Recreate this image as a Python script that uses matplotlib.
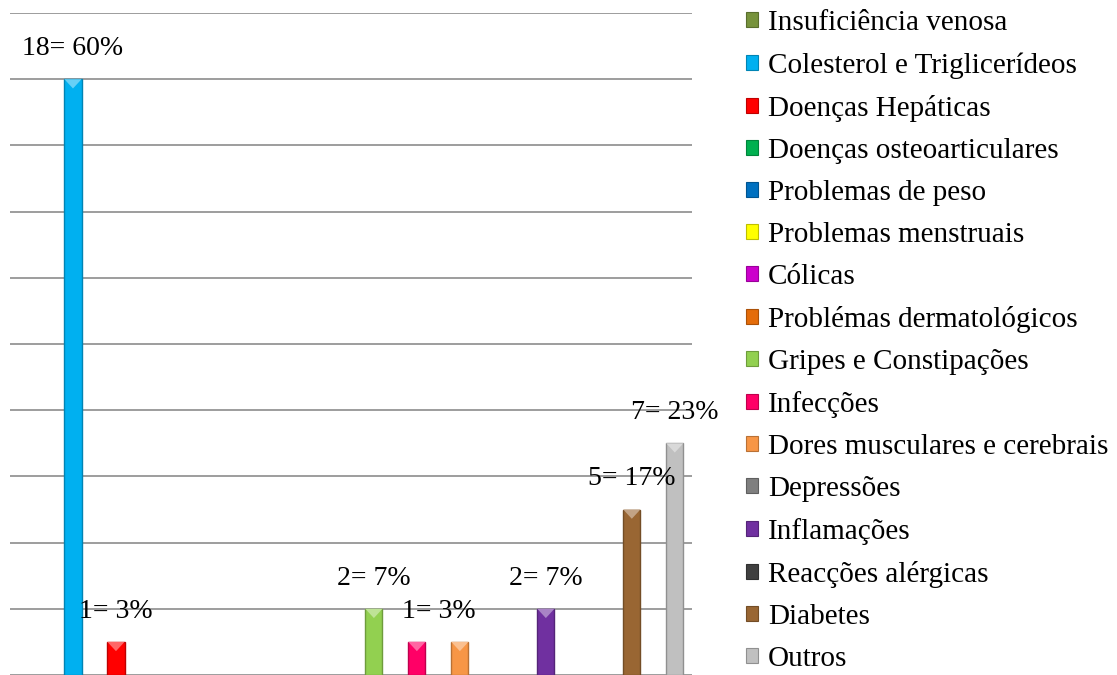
import matplotlib.pyplot as plt
from matplotlib.patches import Patch, Polygon
import matplotlib.colors as mcolors

# categories in legend order
categories = ["Insuficiência venosa", "Colesterol e Triglicerídeos", "Doenças Hepáticas",
              "Doenças osteoarticulares", "Problemas de peso", "Problemas menstruais",
              "Cólicas", "Problémas dermatológicos", "Gripes e Constipações", "Infecções",
              "Dores musculares e cerebrais", "Depressões", "Inflamações",
              "Reacções alérgicas", "Diabetes", "Outros"]
counts = [0, 18, 1, 0, 0, 0, 0, 0, 2, 1, 1, 0, 2, 0, 5, 7]
labels = ["", "18= 60%", "1= 3%", "", "", "", "", "", "2= 7%", "1= 3%", "", "", "2= 7%", "", "5= 17%", "7= 23%"]
colors = ["#77933C", "#00B0F0", "#FF0000", "#00B050", "#0070C0", "#FFFF00",
          "#CC00CC", "#E46C0A", "#92D050", "#FF0066", "#F79646", "#7F7F7F",
          "#7030A0", "#404040", "#996633", "#C0C0C0"]

plt.rcParams['font.family'] = ['Liberation Serif', 'DejaVu Serif']


def darker(c, f=0.75):
    r, g, b = mcolors.to_rgb(c)
    return (r*f, g*f, b*f)


def lighter(c, f=0.4):
    r, g, b = mcolors.to_rgb(c)
    return (r + (1-r)*f, g + (1-g)*f, b + (1-b)*f)


fig = plt.figure(figsize=(11.17, 6.75), dpi=100)
ax = fig.add_axes([10/1117, 0.0, 682/1117, 662/675])

x = list(range(len(categories)))
bars = ax.bar(x, counts, width=0.4, color=colors,
              edgecolor=[darker(c) for c in colors],
              linewidth=[1 if v > 0 else 0 for v in counts], zorder=3)

# bevel look: light triangle on the top of each bar
for b, c, v in zip(bars, colors, counts):
    if v <= 0:
        continue
    x0, w, h = b.get_x(), b.get_width(), b.get_height()
    tri = Polygon([(x0, h), (x0 + w, h), (x0 + w/2, h - 0.28)], closed=True,
                  facecolor=lighter(c), edgecolor="none", zorder=4)
    ax.add_patch(tri)

# label offsets (the Infecções label sits between its bar and the next one)
xshift = {9: 0.5}
for i in x:
    if labels[i]:
        ax.text(i + xshift.get(i, 0), counts[i] + 0.55, labels[i],
                ha="center", va="bottom", fontsize=20, zorder=5)

ax.set_xlim(-0.465, 15.4)
ax.set_ylim(0, 20)
ax.set_yticks(range(0, 21, 2))
ax.yaxis.grid(True, color="#8C8C8C", linewidth=1.2, zorder=0)
ax.tick_params(left=False, bottom=False, labelleft=False, labelbottom=False)
for s in ax.spines.values():
    s.set_visible(False)

handles = [Patch(facecolor=c, edgecolor=darker(c), linewidth=0.8) for c in colors]
fig.legend(handles, categories, loc="upper left", bbox_to_anchor=(746/1117, 0.985),
           frameon=False, fontsize=21, handlelength=0.4, handleheight=0.4,
           handletextpad=0.35, labelspacing=0.55, borderpad=0, borderaxespad=0)

fig.savefig("out.png", dpi=100)
